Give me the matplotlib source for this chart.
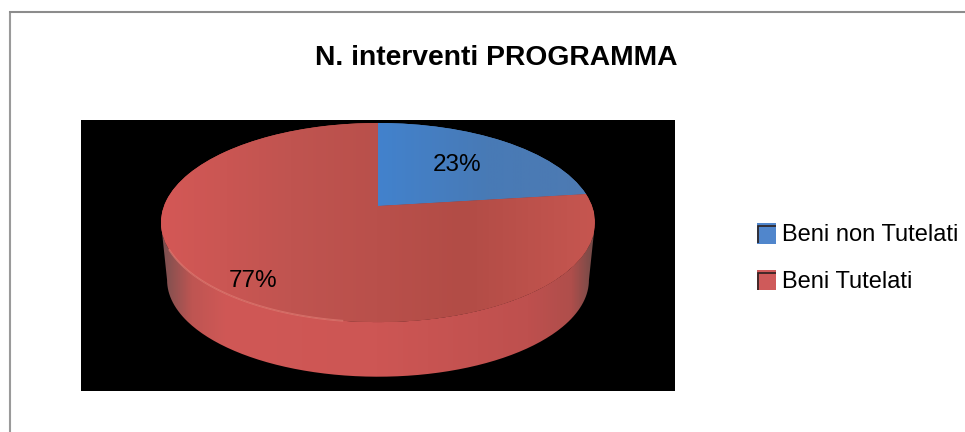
import numpy as np
import matplotlib
matplotlib.use('Agg')
import matplotlib.pyplot as plt
from matplotlib.colors import LinearSegmentedColormap
from matplotlib.lines import Line2D
from matplotlib.patches import PathPatch
from matplotlib.path import Path
from matplotlib.transforms import Transform

labels = ['Beni non Tutelati', 'Beni Tutelati']
values = [23, 77]
colors = ['#4f81bd', '#c0504d']
legend_colors = ['#5086cc', '#cf5a5a']
title = 'N. interventi PROGRAMMA'

W, H = 965, 432
plt.rcParams['font.family'] = ['Liberation Sans', 'DejaVu Sans']


class Persp(Transform):
    # unit circle of the pie -> tilted disc in pixel coordinates
    input_dims = 2
    output_dims = 2

    def __init__(self, cx, cy, a, b, k):
        super().__init__()
        self.cx, self.cy, self.a, self.b, self.k = cx, cy, a, b, k

    def transform_non_affine(self, pts):
        pts = np.asarray(pts, dtype=float)
        d = 1 + self.k * pts[:, 1]
        return np.column_stack([self.cx + self.b * pts[:, 0] / d,
                                self.cy - self.a * pts[:, 1] / d])


def ramp(pairs):
    return LinearSegmentedColormap.from_list('r', [(p, np.array(c) / 255) for p, c in pairs])


fig = plt.figure(figsize=(W / 100, H / 100), dpi=100)
ax = fig.add_axes([0, 0, 1, 1])

top = Persp(378, 206, 96.8, 214, 0.166)
low = Persp(378, 264, 94.0, 208, 0.166)

wedges, _ = ax.pie(values, colors=colors, startangle=90, counterclock=False)
ax.set_aspect('auto')
for w in wedges:
    w.set_transform(top + ax.transData)
    w.set_zorder(3)
    w.set_linewidth(0)

# black plot background
ax.fill_between([81, 675], 120, 391, color='black', lw=0, zorder=1)

# side of the disc
t = np.linspace(np.pi + 0.167, 2 * np.pi - 0.167, 200)
circle = np.column_stack([np.cos(t), np.sin(t)])
edge = np.vstack([top.transform(circle), low.transform(circle)[::-1]])
side = PathPatch(Path(np.vstack([edge, edge[:1]])), fc='none', ec='none', transform=ax.transData)
ax.add_patch(side)
grad = np.linspace(0, 1, 256).reshape(1, -1)
side_cm = ramp([(0, (120, 80, 80)), (0.07, (190, 85, 82)), (0.15, (208, 88, 86)), (0.5, (205, 86, 84)),
                (0.85, (190, 80, 78)), (0.95, (175, 78, 75)), (1, (115, 75, 72))])
im = ax.imshow(grad, extent=[161, 594, 391, 120], aspect='auto', cmap=side_cm, zorder=2)
im.set_clip_path(side)

# shading of the top face, clipped to each wedge
red_cm = ramp([(0, (212, 88, 86)), (0.3, (192, 84, 80)), (0.7, (178, 76, 70)), (1, (198, 86, 80))])
blue_cm = ramp([(0, (66, 130, 205)), (0.5, (72, 122, 182)), (1, (78, 122, 178))])
for w, cm_, x0, x1 in [(wedges[0], blue_cm, 378, 594), (wedges[1], red_cm, 161, 594)]:
    im = ax.imshow(grad, extent=[x0, x1, 391, 120], aspect='auto', cmap=cm_, zorder=4)
    im.set_clip_path(w)

# light rim on the front edge
t = np.linspace(np.radians(205), np.radians(262), 80)
rim = top.transform(np.column_stack([np.cos(t), np.sin(t)]))
ax.plot(rim[:, 0], rim[:, 1], color='#e07a72', lw=1.3, alpha=0.7, zorder=5)

ax.set_xlim(0, W)
ax.set_ylim(H, 0)
ax.axis('off')

ax.text(496, 58, title, ha='center', va='center', fontsize=20.3, fontweight='bold', color='black', zorder=6)
ax.text(457, 165, f'{values[0]}%', ha='center', va='center', fontsize=17.5, color='black', zorder=6)
ax.text(253, 281, f'{values[1]}%', ha='center', va='center', fontsize=17.5, color='black', zorder=6)

handles = [plt.Rectangle((0, 0), 1, 1, fc=c, ec='none') for c in legend_colors]
ax.legend(handles, labels, loc='center left', bbox_to_anchor=(757 / W, 1 - 258 / H),
          bbox_transform=fig.transFigure, frameon=False, fontsize=17, handlelength=0.8,
          handleheight=0.97, handletextpad=0.25, labelspacing=0.98, borderpad=0, borderaxespad=0)

# dark top-left shadow on the legend keys
for y0 in [225, 272]:
    ax.plot([757.5, 757.5, 776], [y0 + 18, y0 + 0.5, y0 + 0.5], color='#2b2020', lw=1.2, zorder=7,
            solid_capstyle='butt', solid_joinstyle='miter')

# chart border: top and left only reach the picture
fig.add_artist(Line2D([9.5 / W, 9.5 / W], [0, 1 - 11 / H], color='#9a9a9a', lw=1.5, solid_capstyle='butt'))
fig.add_artist(Line2D([9 / W, 1], [1 - 11.5 / H, 1 - 11.5 / H], color='#8c8c8c', lw=1.5, solid_capstyle='butt'))

plt.savefig('out.png', dpi=100)
